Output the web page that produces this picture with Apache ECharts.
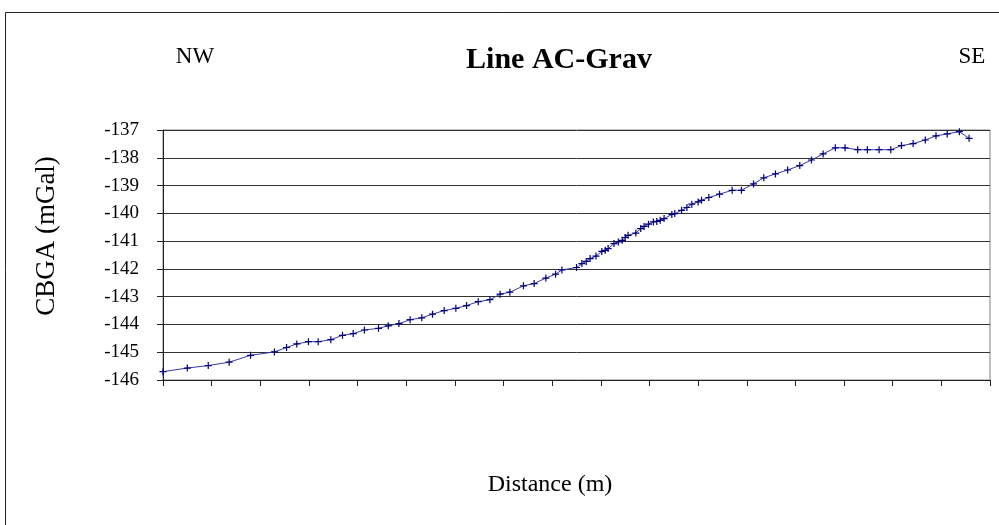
<!DOCTYPE html>
<html>
<head>
<meta charset="utf-8">
<title>Line AC-Grav</title>
<script src="https://cdn.jsdelivr.net/npm/echarts@6/dist/echarts.min.js"></script>
<style>
  html, body { margin: 0; padding: 0; background: #fff; }
  #chart { width: 999px; height: 525px; }
</style>
</head>
<body>
<div id="chart"></div>
<script>
// Distance along the profile (m)
const distance = [
  0, 50, 93, 136, 180, 229, 254, 275, 299, 319,
  345, 369, 391, 414, 443, 463, 485, 508, 532, 554,
  578, 602, 624, 648, 672, 693, 713, 741, 763, 787,
  807, 820, 850, 861, 870, 878, 890, 902, 909, 915,
  927, 936, 944, 950, 956, 972, 982, 989, 998, 1008,
  1015, 1022, 1030, 1046, 1052, 1066, 1077, 1087, 1100, 1107,
  1122, 1144, 1170, 1189, 1214, 1235, 1259, 1284, 1309, 1333,
  1357, 1382, 1402, 1428, 1448, 1472, 1496, 1518, 1542, 1567,
  1589, 1612, 1637, 1657
];

// Complete Bouguer gravity anomaly at each station (mGal)
const cbga = [
  -145.70, -145.57, -145.48, -145.36, -145.11, -144.99, -144.83, -144.70, -144.62, -144.62,
  -144.55, -144.39, -144.33, -144.20, -144.14, -144.05, -143.97, -143.83, -143.76, -143.63,
  -143.50, -143.42, -143.32, -143.18, -143.11, -142.91, -142.84, -142.61, -142.53, -142.33,
  -142.19, -142.04, -141.95, -141.81, -141.73, -141.63, -141.54, -141.37, -141.33, -141.27,
  -141.09, -141.03, -140.97, -140.87, -140.79, -140.71, -140.55, -140.47, -140.39, -140.31,
  -140.29, -140.25, -140.19, -140.04, -140.01, -139.89, -139.79, -139.67, -139.59, -139.53,
  -139.43, -139.31, -139.17, -139.17, -138.94, -138.72, -138.58, -138.44, -138.28, -138.08,
  -137.86, -137.64, -137.64, -137.71, -137.71, -137.71, -137.71, -137.56, -137.49, -137.36,
  -137.21, -137.14, -137.06, -137.30
];

// Axis extents
const yMin = -146, yMax = -137, yStep = 1;
const xMin = 0, xMax = 1700, xStep = 100;

const titleText = 'Line AC-Grav';
const leftEnd = 'NW';
const rightEnd = 'SE';
const yTitle = 'CBGA (mGal)';
const xTitle = 'Distance (m)';

const points = distance.map((d, i) => [d, cbga[i]]);
const serif = '"Liberation Serif", "Times New Roman", serif';

const chart = echarts.init(document.getElementById('chart'), null, { renderer: 'canvas' });

chart.setOption({
  backgroundColor: '#ffffff',
  animation: false,
  grid: {
    left: 163, top: 130, width: 827, height: 250,
    show: true, borderColor: '#808080', borderWidth: 1, backgroundColor: 'transparent'
  },
  xAxis: {
    type: 'value', min: xMin, max: xMax, interval: xStep,
    axisLine: { show: true, onZero: false, lineStyle: { color: '#222', width: 1 } },
    axisTick: { show: true, inside: false, length: 6, lineStyle: { color: '#222' } },
    axisLabel: { show: false },
    splitLine: { show: false }
  },
  yAxis: {
    type: 'value', min: yMin, max: yMax, interval: yStep,
    axisLine: { show: true, onZero: false, lineStyle: { color: '#222', width: 1 } },
    axisTick: { show: true, inside: false, length: 6, lineStyle: { color: '#222' } },
    axisLabel: { color: '#000', fontFamily: serif, fontSize: 19, margin: 24 },
    splitLine: { show: true, lineStyle: { color: '#333', width: 1 } }
  },
  series: [{
    type: 'line',
    data: points,
    symbol: 'path://M0,3.3H8V4.7H0ZM3.3,0H4.7V8H3.3Z',
    symbolSize: 7,
    showAllSymbol: true,
    lineStyle: { color: '#3a3aa8', width: 1 },
    itemStyle: { color: '#000080' }
  }],
  graphic: [
    { type: 'rect', shape: { x: 5.5, y: 12.5, width: 1000, height: 520 },
      style: { fill: 'none', stroke: '#222', lineWidth: 1 }, silent: true },
    { type: 'text', x: 559, y: 60,
      style: { text: titleText, font: 'bold 30px ' + serif, fill: '#000', align: 'center', verticalAlign: 'middle' } },
    { type: 'text', x: 195, y: 57,
      style: { text: leftEnd, font: '23px ' + serif, fill: '#000', align: 'center', verticalAlign: 'middle' } },
    { type: 'text', x: 972, y: 57,
      style: { text: rightEnd, font: '23px ' + serif, fill: '#000', align: 'center', verticalAlign: 'middle' } },
    { type: 'text', x: 47, y: 236, rotation: Math.PI / 2,
      style: { text: yTitle, font: '27px ' + serif, fill: '#000', align: 'center', verticalAlign: 'middle' } },
    { type: 'text', x: 550, y: 485,
      style: { text: xTitle, font: '24px ' + serif, fill: '#000', align: 'center', verticalAlign: 'middle' } }
  ]
});
</script>
</body>
</html>
